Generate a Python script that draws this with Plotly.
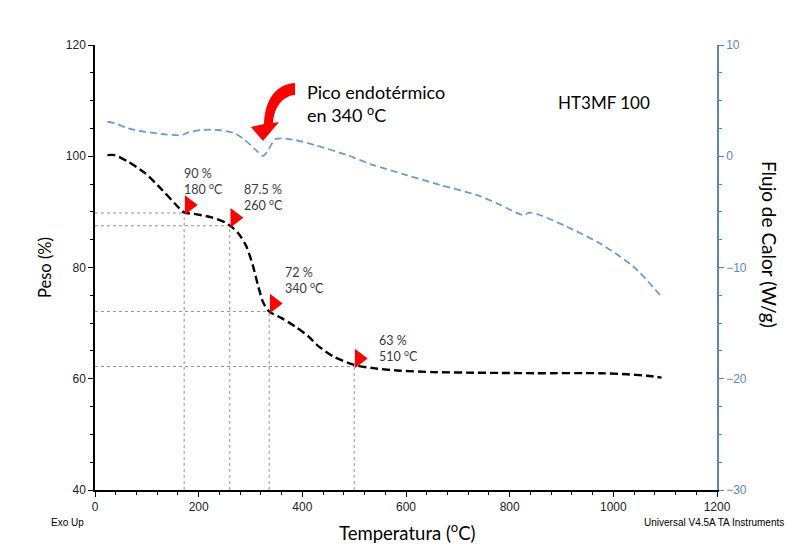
import plotly.graph_objects as go

# ---------------- data ----------------
temp_tga = [24, 38, 64, 96, 129, 154, 172, 194, 225, 251, 261, 276, 292, 305, 315, 325, 336,
            360, 386, 412, 428, 460, 500, 537, 588, 653, 717, 781, 850, 974, 1026, 1064, 1093]
weight = [100.2, 100.2, 99.0, 97.0, 94.0, 91.5, 89.9, 89.6, 89.0, 88.1, 87.5, 86.2, 83.8, 80.2,
          76.6, 73.6, 72.1, 70.9, 69.4, 67.6, 66.1, 64.0, 62.5, 61.9, 61.45, 61.2, 61.1, 61.05,
          61.0, 61.0, 60.8, 60.55, 60.2]

temp_dsc = [24, 39, 64, 97, 129, 154, 168, 180, 206, 238, 270, 289, 309, 324, 335, 347, 360,
            386, 424, 486, 537, 601, 666, 736, 781, 826, 839, 858, 910, 974, 1039, 1090]
heat_flow = [3.1, 2.96, 2.5, 2.2, 2.0, 1.9, 1.9, 2.15, 2.36, 2.36, 2.06, 1.46, 0.62, 0.03, 0.62,
             1.52, 1.61, 1.46, 1.01, 0.11, -0.79, -1.69, -2.58, -3.48, -4.35, -5.28, -5.07,
             -5.28, -6.33, -7.83, -9.93, -12.47]

guide_temp = [172, 260, 336, 500]
guide_weight = [89.8, 87.5, 72.1, 62.2]
pct_labels = ["90 %", "87.5 %", "72 %", "63 %"]
temp_labels = ["180", "260", "340", "510"]

x_ticks = [0, 200, 400, 600, 800, 1000, 1200]
y_ticks = [40, 60, 80, 100, 120]
y2_ticks = [-30, -20, -10, 0, 10]

# ---------------- layout geometry (page pixels) ----------------
PAGE_W, PAGE_H = 807, 552
OFF = 8                      # default body margin of the html page
W, H = PAGE_W - 2 * OFF, PAGE_H - 2 * OFF
L, R, T, B = 95, 717, 45, 490   # plot area in page pixels
XR, YR, Y2R = [0, 1200], [40, 120], [-30, 10]


def px(xp):
    return (xp - L) / (R - L)


def py(yp):
    return (B - yp) / (B - T)


ux = (XR[1] - XR[0]) / (R - L)   # data units per pixel, x
uy = (YR[1] - YR[0]) / (B - T)   # data units per pixel, y

BLUE_AX = "#5b86c1"
BLUE_LN = "#6e9bd5"
TXT = "#3a3a3a"
TITLE_FONT = "Lato, Open Sans, sans-serif"
TICK_FONT = "Liberation Sans, Arial, sans-serif"
NARROW_FONT = "Liberation Sans Narrow, Liberation Sans, Arial, sans-serif"

fig = go.Figure()

fig.add_trace(go.Scatter(
    x=temp_dsc, y=heat_flow, yaxis="y2", mode="lines",
    line=dict(color=BLUE_LN, width=1.8, dash="7px,4px", shape="spline", smoothing=0.8),
    hoverinfo="skip", showlegend=False))

fig.add_trace(go.Scatter(
    x=temp_tga, y=weight, mode="lines",
    line=dict(color="black", width=2.4, dash="8px,4px", shape="spline", smoothing=0.8),
    hoverinfo="skip", showlegend=False))

# red triangles, drawn just above-right of each reading point
mk_dx, mk_dy = 5 * ux, 8 * uy
fig.add_trace(go.Scatter(
    x=[t + mk_dx for t in guide_temp], y=[w + mk_dy for w in guide_weight],
    mode="markers", marker=dict(symbol="triangle-right", size=17, color="#ff0000"),
    hoverinfo="skip", showlegend=False))

shapes = []
for t, w in zip(guide_temp, guide_weight):
    shapes.append(dict(type="line", xref="x", yref="y", x0=XR[0], x1=t, y0=w, y1=w,
                       line=dict(color="#7a7a7a", width=0.8, dash="dot"), layer="below"))
    shapes.append(dict(type="line", xref="x", yref="y", x0=t, x1=t, y0=YR[0], y1=w,
                       line=dict(color="#7a7a7a", width=0.8, dash="dot"), layer="below"))

# curved red arrow (pixel design converted to paper coords)
arrow_px = [("M", 295, 83), ("C", 278, 84, 265, 97, 264, 124), ("L", 251, 127), ("L", 263, 141),
            ("L", 279, 122), ("L", 273, 123), ("C", 274, 108, 282, 96, 295, 95)]
path = ""
for seg in arrow_px:
    cmd, pts = seg[0], seg[1:]
    coords = []
    for i in range(0, len(pts), 2):
        coords.append(f"{px(pts[i]):.5f},{py(pts[i + 1]):.5f}")
    path += cmd + " " + " ".join(coords) + " "
path += "Z"
shapes.append(dict(type="path", xref="paper", yref="paper", path=path,
                   fillcolor="#ff0000", line=dict(width=0)))

annotations = []
lab_dx = [-2, 12, 14, 23]
lab_dy = [31.5, 28, 31, 18]
for t, w, p, tl, dx, dy in zip(guide_temp, guide_weight, pct_labels, temp_labels, lab_dx, lab_dy):
    annotations.append(dict(
        x=t, y=w, xref="x", yref="y", xanchor="left", yanchor="middle",
        xshift=dx, yshift=dy, showarrow=False, align="left",
        text=f"{p}<br>{tl} <sup>o</sup>C",
        font=dict(family=TITLE_FONT, size=12.5, color=TXT)))


def ptext(x, y, text, size, family=TITLE_FONT, xanchor="center", angle=0, align="center"):
    return dict(x=px(x), y=py(y), xref="paper", yref="paper", xanchor=xanchor,
                yanchor="middle", text=text, textangle=angle, showarrow=False, align=align,
                font=dict(family=family, size=size, color="black"))


annotations += [
    ptext(45, 268, "Peso (%)", 16.5, angle=-90),
    ptext(770, 244, "Flujo de Calor (W/g)", 19, angle=90),
    ptext(407, 531, "Temperatura (<sup>o</sup>C)", 18.5),
    ptext(49, 522, "Exo Up", 10, family=NARROW_FONT, xanchor="left"),
    ptext(786, 522, "Universal V4.5A TA Instruments", 10, family=NARROW_FONT, xanchor="right"),
    ptext(604, 102, "HT3MF 100", 17),
    ptext(305, 103, "Pico endotérmico<br>en 340 <sup>o</sup>C", 18, xanchor="left", align="left"),
]

axis_common = dict(showgrid=False, zeroline=False, showline=True, ticks="outside",
                   ticklen=5, tickwidth=1.2)

fig.update_layout(
    width=W, height=H,
    margin=dict(l=L - OFF, r=W - (R - OFF), t=T - OFF, b=H - (B - OFF)),
    paper_bgcolor="white", plot_bgcolor="white",
    xaxis=dict(range=XR, tickvals=x_ticks, linecolor="black", linewidth=1.5, tickcolor="black",
               tickfont=dict(family=TICK_FONT, size=12, color="#222"),
               minor=dict(dtick=40, tick0=0, ticks="outside", ticklen=3, tickcolor="black"),
               **axis_common),
    yaxis=dict(range=YR, tickvals=y_ticks, linecolor="black", linewidth=1.5, tickcolor="black",
               tickfont=dict(family=TICK_FONT, size=12, color="#222"),
               minor=dict(dtick=5, tick0=40, ticks="outside", ticklen=3, tickcolor="black"),
               **axis_common),
    yaxis2=dict(range=Y2R, tickvals=y2_ticks, overlaying="y", side="right", anchor="x",
                linecolor=BLUE_AX, linewidth=1.5, tickcolor=BLUE_AX,
                tickfont=dict(family=TICK_FONT, size=12, color=BLUE_AX),
                minor=dict(dtick=2.5, tick0=-30, ticks="outside", ticklen=3, tickcolor=BLUE_AX),
                **axis_common),
    shapes=shapes, annotations=annotations, showlegend=False,
)

fig.write_html("out.html")
